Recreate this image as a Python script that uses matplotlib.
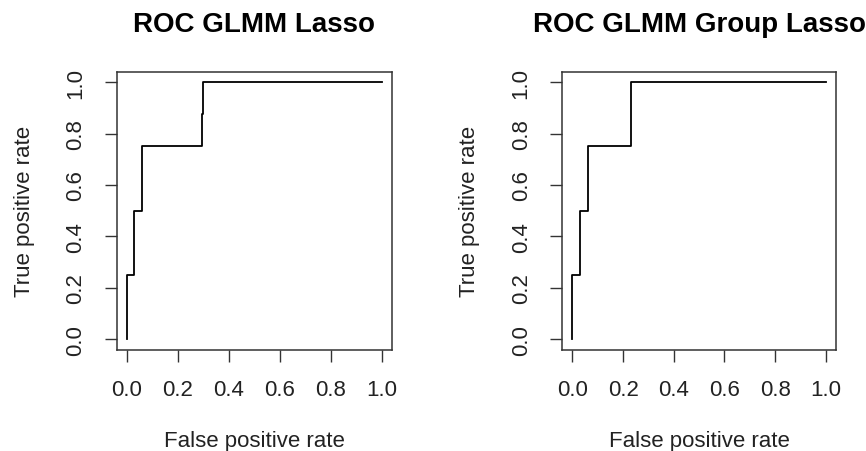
import matplotlib
matplotlib.use('Agg')
import matplotlib.pyplot as plt

plt.rcParams['font.family'] = ['Liberation Sans', 'DejaVu Sans']

# ROC step curves
fpr_lasso = [0.0, 0.0, 0.029, 0.029, 0.059, 0.059, 0.294, 0.294, 0.30, 0.30, 1.0]
tpr_lasso = [0.0, 0.25, 0.25, 0.5, 0.5, 0.75, 0.75, 0.875, 0.875, 1.0, 1.0]

fpr_group = [0.0, 0.0, 0.029, 0.029, 0.063, 0.063, 0.233, 0.233, 1.0]
tpr_group = [0.0, 0.25, 0.25, 0.5, 0.5, 0.75, 0.75, 1.0, 1.0]

titles = ['ROC GLMM Lasso', 'ROC GLMM Group Lasso']
ticks = [0.0, 0.2, 0.4, 0.6, 0.8, 1.0]
tick_labels = ['0.0', '0.2', '0.4', '0.6', '0.8', '1.0']

fig = plt.figure(figsize=(8.66, 4.52), dpi=100)
ax1 = fig.add_axes([0.1348, 0.2241, 0.3176, 0.615])
ax2 = fig.add_axes([0.6493, 0.2241, 0.3160, 0.615])

for ax, x, y, title in zip([ax1, ax2], [fpr_lasso, fpr_group], [tpr_lasso, tpr_group], titles):
    ax.plot(x, y, color='black', lw=1.3)
    ax.set_xlim(-0.04, 1.04)
    ax.set_ylim(-0.04, 1.04)
    ax.set_xticks(ticks)
    ax.set_xticklabels(tick_labels)
    ax.set_yticks(ticks)
    ax.set_yticklabels(tick_labels, rotation=90, va='center')
    ax.tick_params(length=8.5, width=1, color='#333333', labelsize=16, labelcolor='#222222')
    ax.tick_params(axis='x', pad=12.5)
    ax.tick_params(axis='y', pad=13.5)
    for s in ax.spines.values():
        s.set_color('#333333')
        s.set_linewidth(1.1)
    ax.set_title(title, fontsize=20, fontweight='bold', pad=29)
    ax.set_xlabel('False positive rate', fontsize=16, labelpad=21.5, color='#222222')
    ax.set_ylabel('True positive rate', fontsize=16, labelpad=22, color='#222222')

plt.savefig('out.png', dpi=100)
